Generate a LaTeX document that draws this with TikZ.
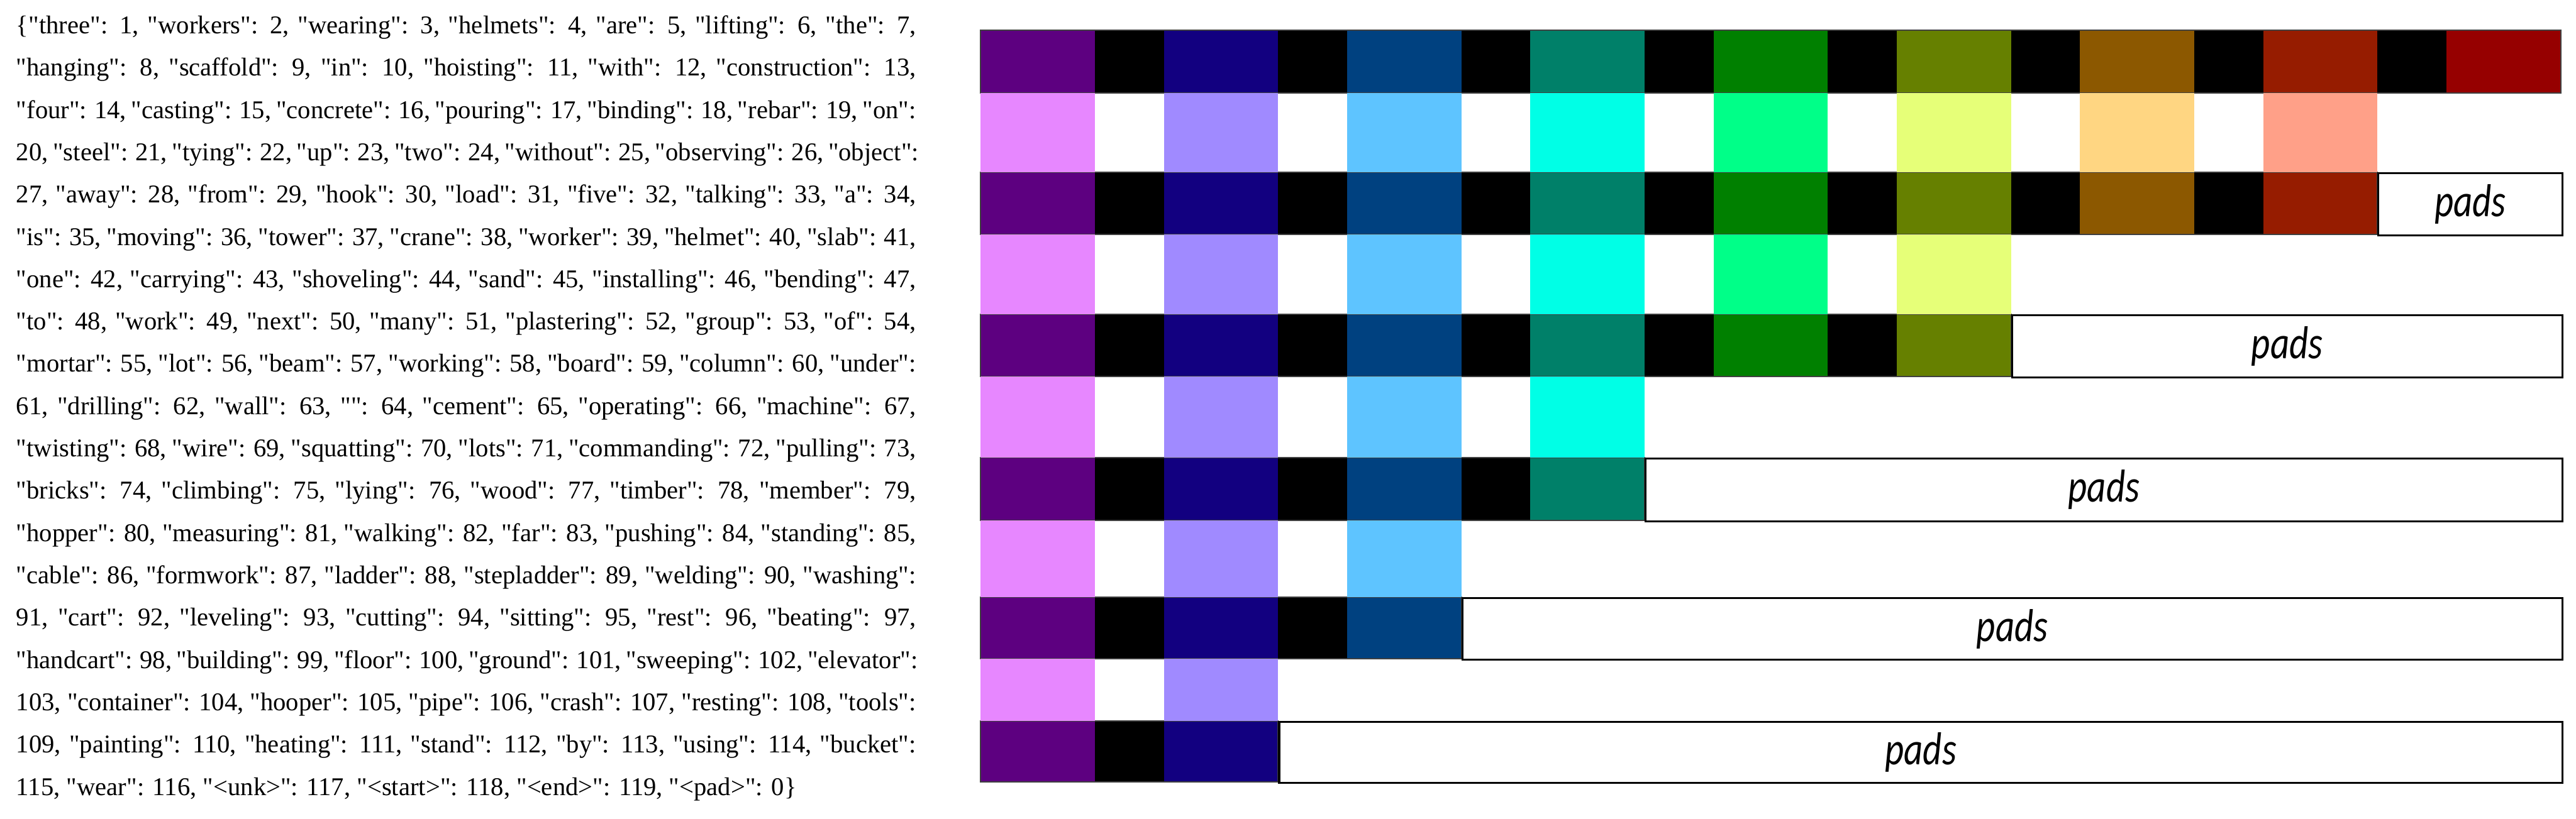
\documentclass[tikz,border=0pt]{standalone}
\usepackage{fontspec}
\newfontfamily\dictfont{Liberation Serif}
\newfontfamily\padfont[FakeStretch=0.8]{Carlito}

% token colours (dark = ids, light = embeddings)
\definecolor{dk1}{RGB}{93,0,128}
\definecolor{dk2}{RGB}{18,0,128}
\definecolor{dk3}{RGB}{0,65,128}
\definecolor{dk4}{RGB}{0,128,105}
\definecolor{dk5}{RGB}{0,128,0}
\definecolor{dk6}{RGB}{102,128,0}
\definecolor{dk7}{RGB}{140,88,0}
\definecolor{dk8}{RGB}{150,28,0}
\definecolor{dk9}{RGB}{150,0,0}
\definecolor{lt1}{RGB}{231,135,255}
\definecolor{lt2}{RGB}{160,138,255}
\definecolor{lt3}{RGB}{94,196,255}
\definecolor{lt4}{RGB}{0,255,230}
\definecolor{lt5}{RGB}{0,255,136}
\definecolor{lt6}{RGB}{230,255,120}
\definecolor{lt7}{RGB}{255,214,130}
\definecolor{lt8}{RGB}{255,160,136}

\begin{document}
\begin{tikzpicture}[
  dictline/.style={anchor=base west,inner sep=0pt,
    font=\dictfont\fontsize{11.9}{14}\selectfont},
  padbox/.style={draw=black,line width=0.9pt,fill=white,inner sep=0pt,
    font=\padfont\itshape\fontsize{21.5}{24}\selectfont}]
  \useasboundingbox (0,0) rectangle (42.11,13.39);

  % Vocabulary dictionary (justified lines)
  \foreach \txt [count=\i] in {
    {\{"three": 1, "workers": 2, "wearing": 3, "helmets": 4, "are": 5, "lifting": 6, "the": 7,},
    {"hanging": 8, "scaffold": 9, "in": 10, "hoisting": 11, "with": 12, "construction": 13,},
    {"four": 14, "casting": 15, "concrete": 16, "pouring": 17, "binding": 18, "rebar": 19, "on":},
    {20, "steel": 21, "tying": 22, "up": 23, "two": 24, "without": 25, "observing": 26, "object":},
    {27, "away": 28, "from": 29, "hook": 30, "load": 31, "five": 32, "talking": 33, "a": 34,},
    {"is": 35, "moving": 36, "tower": 37, "crane": 38, "worker": 39, "helmet": 40, "slab": 41,},
    {"one": 42, "carrying": 43, "shoveling": 44, "sand": 45, "installing": 46, "bending": 47,},
    {"to": 48, "work": 49, "next": 50, "many": 51, "plastering": 52, "group": 53, "of": 54,},
    {"mortar": 55, "lot": 56, "beam": 57, "working": 58, "board": 59, "column": 60, "under":},
    {61, "drilling": 62, "wall": 63, "": 64, "cement": 65, "operating": 66, "machine": 67,},
    {"twisting": 68, "wire": 69, "squatting": 70, "lots": 71, "commanding": 72, "pulling": 73,},
    {"bricks": 74, "climbing": 75, "lying": 76, "wood": 77, "timber": 78, "member": 79,},
    {"hopper": 80, "measuring": 81, "walking": 82, "far": 83, "pushing": 84, "standing": 85,},
    {"cable": 86, "formwork": 87, "ladder": 88, "stepladder": 89, "welding": 90, "washing":},
    {91, "cart": 92, "leveling": 93, "cutting": 94, "sitting": 95, "rest": 96, "beating": 97,},
    {"handcart": 98, "building": 99, "floor": 100, "ground": 101, "sweeping": 102, "elevator":},
    {103, "container": 104, "hooper": 105, "pipe": 106, "crash": 107, "resting": 108, "tools":},
    {109, "painting": 110, "heating": 111, "stand": 112, "by": 113, "using": 114, "bucket":}}
    \node[dictline] (line\i) at (0.26,{12.84-0.692*(\i-1)}) {\makebox[14.71cm][s]{\txt}};
  \node[dictline] (line19) at (0.26,{12.84-0.692*18})
    {115, "wear": 116, "<unk>": 117, "<start>": 118, "<end>": 119, "<pad>": 0\}};

  % Token id rows
  \foreach \yt/\yb/\n in {12.90/11.87/9, 10.57/9.56/8, 8.25/7.23/6,
                          5.91/4.88/4, 3.62/2.62/3, 1.60/0.60/2} {
    \pgfmathsetmacro\xr{16.03+2.995*(\n-1)+1.87}
    \fill[black] (16.03,\yt) rectangle (\xr,\yb);
    \foreach \c in {1,...,\n}
      \fill[dk\c] ({16.03+2.995*(\c-1)},\yt) rectangle ({16.03+2.995*(\c-1)+1.87},\yb);
    \draw[black!75,line width=0.6pt] (16.03,\yt) rectangle (\xr,\yb);
  }

  % Embedding rows
  \foreach \yt/\yb/\n in {11.87/10.57/8, 9.56/8.25/6, 7.23/5.91/4,
                          4.88/3.62/3, 2.62/1.60/2}
    \foreach \c in {1,...,\n}
      \fill[lt\c] ({16.03+2.995*(\c-1)},\yt) rectangle ({16.03+2.995*(\c-1)+1.87},\yb);

  % Padding boxes
  \foreach \yt/\yb/\n [count=\k] in {10.57/9.56/8, 8.25/7.23/6, 5.91/4.88/4,
                                     3.62/2.62/3, 1.60/0.60/2} {
    \pgfmathsetmacro\padx{16.03+2.995*(\n-1)+1.87}
    \pgfmathsetmacro\padw{41.87-\padx}
    \pgfmathsetmacro\padh{\yt-\yb}
    \node[padbox,minimum width=\padw cm,minimum height=\padh cm,anchor=north west]
      (pad\k) at (\padx,\yt) {pads};
  }
\end{tikzpicture}
\end{document}
